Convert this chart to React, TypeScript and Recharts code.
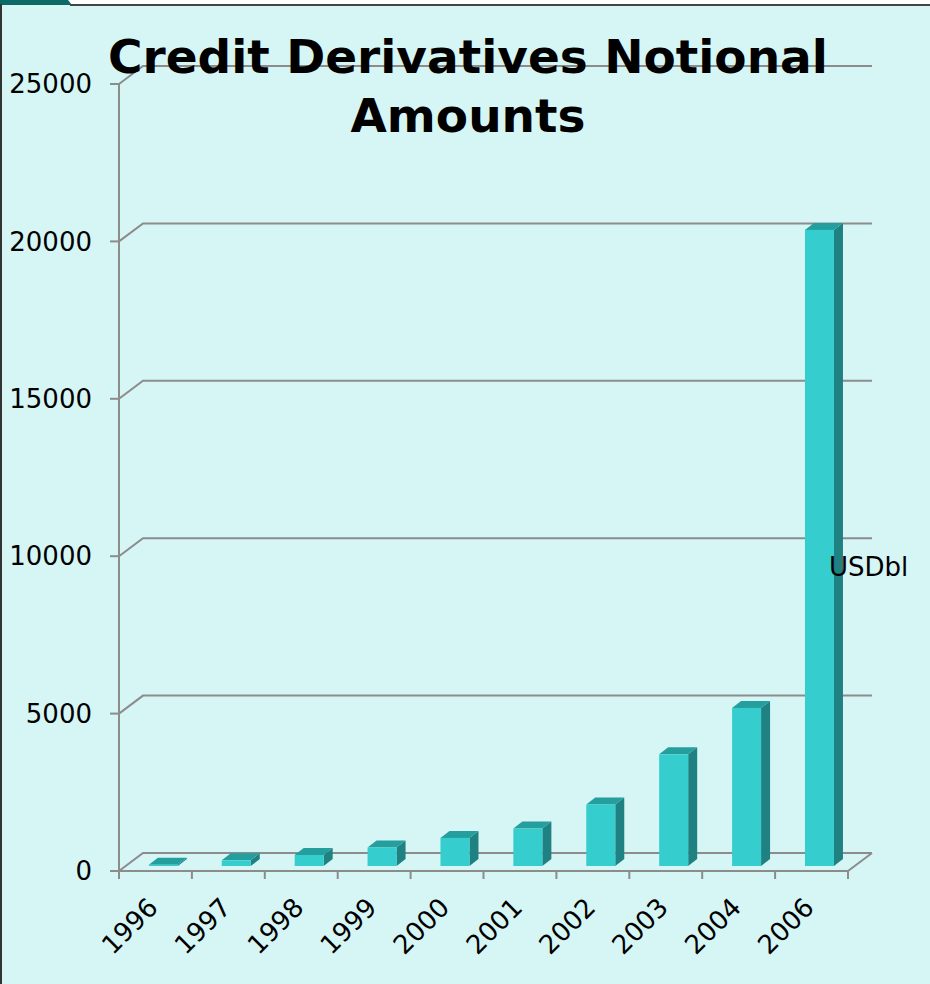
import React from "react";
import { BarChart, Bar, XAxis, YAxis, CartesianGrid } from "recharts";

const years = ["1996", "1997", "1998", "1999", "2000", "2001", "2002", "2003", "2004", "2006"];
const notional = [40, 180, 350, 586, 893, 1189, 1952, 3548, 5021, 20207];
const yTicks = [0, 5000, 10000, 15000, 20000, 25000];

const data = years.map((year, i) => ({ year, value: notional[i] }));

const W = 930;
const H = 984;
const PLOT_LEFT = 119;
const PLOT_RIGHT = 848;
const PLOT_BOTTOM = 871;
const BAND = (PLOT_RIGHT - PLOT_LEFT) / years.length;

// depth of the floor / back wall
const DEPTH_X = 24;
const DEPTH_Y = -18;
// bars sit a little inside the floor
const BAR_DX = 8;
const BAR_DY = -5;
const BAR_SIDE_X = 9;
const BAR_SIDE_Y = -7;

const gridColor = "#8c8c8c";
const font = "'DejaVu Sans', Verdana, sans-serif";

function GridLine(props: any) {
  const { x1, y1, x2 } = props;
  const isFloor = Math.abs(y1 - PLOT_BOTTOM) < 1;
  let d = `M${x1},${y1} L${x1 + DEPTH_X},${y1 + DEPTH_Y} L${x2 + DEPTH_X},${y1 + DEPTH_Y}`;
  if (isFloor) d += ` M${x2},${y1} L${x2 + DEPTH_X},${y1 + DEPTH_Y}`;
  return <path key={props.key} d={d} stroke={gridColor} strokeWidth={2} fill="none" />;
}

function Box3D(props: any) {
  const { x, y, width, height } = props;
  const fx = x + BAR_DX;
  const fy = y + BAR_DY;
  const h = Math.max(height, 0);
  const sx = BAR_SIDE_X;
  const sy = BAR_SIDE_Y;
  return (
    <g>
      <path
        d={`M${fx + width},${fy} L${fx + width + sx},${fy + sy} L${fx + width + sx},${fy + h + sy} L${fx + width},${fy + h} Z`}
        fill="#1f8181"
      />
      <path
        d={`M${fx},${fy} L${fx + sx},${fy + sy} L${fx + width + sx},${fy + sy} L${fx + width},${fy} Z`}
        fill="#259e9e"
      />
      <rect x={fx} y={fy} width={width} height={h} fill="#35cdcd" />
    </g>
  );
}

function YearTick(props: any) {
  const { x, payload, index } = props;
  const left = x - BAND / 2;
  const ax = x + 4;
  const ay = 909;
  return (
    <g>
      <line x1={left} y1={PLOT_BOTTOM} x2={left} y2={PLOT_BOTTOM + 8} stroke={gridColor} strokeWidth={2} />
      {index === years.length - 1 && (
        <line x1={left + BAND} y1={PLOT_BOTTOM} x2={left + BAND} y2={PLOT_BOTTOM + 8} stroke={gridColor} strokeWidth={2} />
      )}
      <text
        x={ax}
        y={ay}
        textAnchor="end"
        transform={`rotate(-45, ${ax}, ${ay})`}
        fontSize={26}
        fontFamily={font}
        fill="#000"
      >
        {payload.value}
      </text>
    </g>
  );
}

export default function App() {
  return (
    <div style={{ position: "absolute", left: 0, top: 0, width: W, height: H, background: "#d6f5f5", overflow: "hidden" }}>
      <div style={{ position: "absolute", left: 0, top: 0, width: W, height: 4, background: "#fff" }} />
      <div
        style={{
          position: "absolute",
          left: 0,
          top: 0,
          width: 72,
          height: 5,
          background: "#0b6a66",
          clipPath: "polygon(0 0, 68px 0, 72px 100%, 0 100%)",
        }}
      />
      <div style={{ position: "absolute", left: 70, top: 4, width: W - 70, height: 2, background: "#444" }} />
      <div style={{ position: "absolute", left: 0, top: 4, width: 2, height: H - 4, background: "#333" }} />

      <div style={{ position: "absolute", left: 0, top: 0 }}>
        <BarChart width={W} height={H} data={data} margin={{ top: 84, right: W - PLOT_RIGHT, bottom: 0, left: PLOT_LEFT - 100 }} barCategoryGap="30%">
          <CartesianGrid vertical={false} horizontal={(p: any) => <GridLine {...p} />} />
          <YAxis
            width={100}
            domain={[0, 25000]}
            ticks={yTicks}
            interval={0}
            axisLine={{ stroke: gridColor, strokeWidth: 2 }}
            tickLine={{ stroke: gridColor, strokeWidth: 2 }}
            tickSize={9}
            tickMargin={18}
            tick={{ fontSize: 26, fontFamily: font, fill: "#000" }}
          />
          <XAxis
            dataKey="year"
            height={H - PLOT_BOTTOM}
            interval={0}
            axisLine={{ stroke: gridColor, strokeWidth: 2 }}
            tickLine={false}
            tick={<YearTick />}
          />
          <Bar dataKey="value" isAnimationActive={false} shape={(p: any) => <Box3D {...p} />} />
        </BarChart>
      </div>

      <svg width={W} height={H} style={{ position: "absolute", left: 0, top: 0, pointerEvents: "none" }}>
        <text x={468} y={73} textAnchor="middle" fontSize={47} fontWeight="bold" fontFamily={font} fill="#000">
          Credit Derivatives Notional
        </text>
        <text x={468} y={132} textAnchor="middle" fontSize={47} fontWeight="bold" fontFamily={font} fill="#000">
          Amounts
        </text>
        <text x={829} y={576} fontSize={26} fontFamily={font} fill="#000">
          USDbl
        </text>
      </svg>
    </div>
  );
}
